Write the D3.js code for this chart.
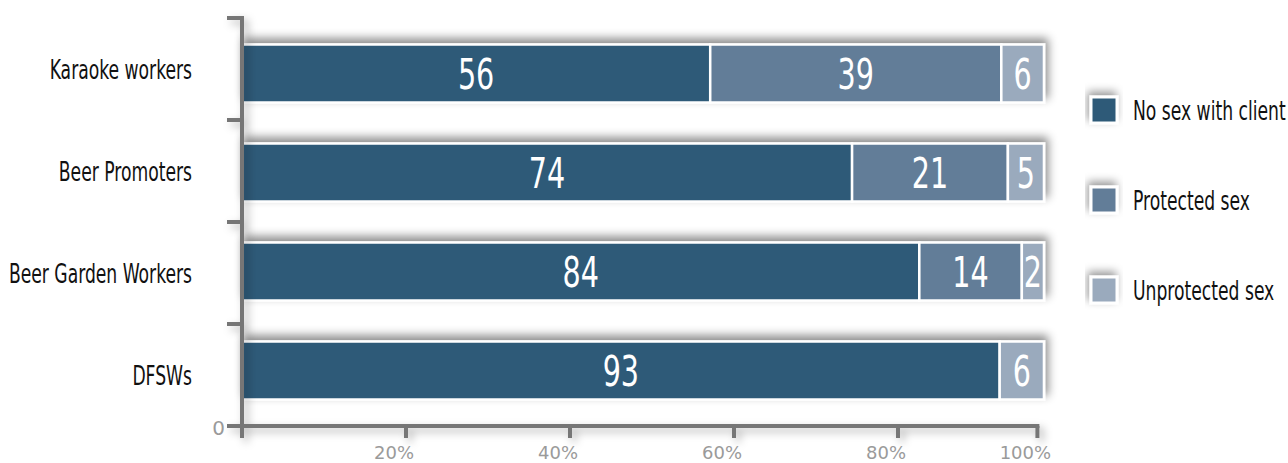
<!DOCTYPE html>
<html>
<head>
<meta charset="utf-8">
<script src="https://cdn.jsdelivr.net/npm/d3@7"></script>
<style>
  html, body { margin: 0; padding: 0; background: #fff; }
  svg { display: block; }
  .cond { font-family: "DejaVu Sans Condensed", "DejaVu Sans", sans-serif; font-stretch: condensed; }
  .tick-label { font-family: "DejaVu Sans", sans-serif; fill: #9a9a9a; }
</style>
</head>
<body>
<svg id="chart" width="1288" height="463"></svg>
<script>
// ---- data ----
const categories = ["Karaoke workers", "Beer Promoters", "Beer Garden Workers", "DFSWs"];
const seriesNames = ["No sex with client", "Protected sex", "Unprotected sex"];
// bar lengths as drawn (percent of the axis scale)
const noSex       = [57.1, 74.4, 82.6, 92.4];
const protectedSx = [35.5, 19.0, 12.5, 0];
const unprotected = [5.2, 4.4, 2.7, 5.4];
// printed value labels
const noSexLabels       = ["56", "74", "84", "93"];
const protectedLabels   = ["39", "21", "14", ""];
const unprotectedLabels = ["6", "5", "2", "6"];
const xTickValues = [20, 40, 60, 80, 97];
const xTickLabels = ["20%", "40%", "60%", "80%", "100%"];
const colors = ["#2d5a78", "#627d98", "#9aaabd"];

const svg = d3.select("#chart");
const defs = svg.append("defs");
function shadow(id, dx, dy, sd, op) {
  const f = defs.append("filter").attr("id", id)
    .attr("x", "-20%").attr("y", "-60%").attr("width", "140%").attr("height", "220%");
  f.append("feDropShadow").attr("dx", dx).attr("dy", dy).attr("stdDeviation", sd)
    .attr("flood-color", "#000").attr("flood-opacity", op);
}
shadow("barShadow", 3, -5, 5, 0.45);
shadow("legShadow", -2, -4, 4, 0.4);
shadow("axShadow", 4, 4, 4, 0.3);

const x = d3.scaleLinear().domain([0, 100]).range([242, 1062]);
const yTicks = d3.scaleBand().domain(categories).range([18, 426]);
const yBars = d3.scalePoint().domain(categories).range([24, 420]).padding(0.5);
const yLabels = d3.scalePoint().domain(categories).range([18, 426]).padding(0.5);
const barH = 58;
const sxLab = 0.735;
const sxVal = 0.74;

const stackData = categories.map((c, i) => ({
  cat: c,
  segs: [
    { v: noSex[i], lab: noSexLabels[i], k: 0 },
    { v: protectedSx[i], lab: protectedLabels[i], k: 1 },
    { v: unprotected[i], lab: unprotectedLabels[i], k: 2 }
  ]
}));
stackData.forEach(d => { let acc = 0; d.segs.forEach(s => { s.x0 = acc; acc += s.v; s.x1 = acc; }); });

// ---- bars ----
const rows = svg.append("g").selectAll("g.row").data(stackData).join("g")
  .attr("class", "row").attr("filter", "url(#barShadow)");
rows.selectAll("rect").data(d => d.segs.filter(s => s.v > 0).map(s => ({...s, cat: d.cat}))).join("rect")
  .attr("x", s => x(s.x0))
  .attr("width", s => x(s.x1) - x(s.x0))
  .attr("y", s => yBars(s.cat) - barH / 2)
  .attr("height", barH)
  .attr("fill", s => colors[s.k])
  .attr("stroke", "#fff").attr("stroke-width", 2.5);

svg.append("g").selectAll("text").data(stackData.flatMap(d => d.segs.filter(s => s.v > 0).map(s => ({...s, cat: d.cat})))).join("text")
  .attr("class", "cond")
  .attr("transform", s => `translate(${(x(s.x0) + x(s.x1)) / 2},${yBars(s.cat) + 15.5}) scale(${sxVal},1)`)
  .attr("text-anchor", "middle")
  .attr("font-size", 43)
  .attr("fill", "#fff")
  .text(s => s.lab);

// ---- axes ----
const axG = svg.append("g").attr("filter", "url(#axShadow)");
const axColor = "#767676";
axG.append("line").attr("x1", 242).attr("x2", 242).attr("y1", yTicks.range()[0] - 2).attr("y2", yTicks.range()[1] + 12)
  .attr("stroke", axColor).attr("stroke-width", 4);
axG.append("line").attr("x1", 227).attr("x2", x(97) + 2).attr("y1", yTicks.range()[1]).attr("y2", yTicks.range()[1])
  .attr("stroke", axColor).attr("stroke-width", 4);
axG.selectAll("line.ytick").data(categories).join("line").attr("class", "ytick")
  .attr("x1", 227).attr("x2", 242)
  .attr("y1", c => yTicks(c)).attr("y2", c => yTicks(c))
  .attr("stroke", axColor).attr("stroke-width", 4);
axG.selectAll("line.xtick").data(xTickValues).join("line").attr("class", "xtick")
  .attr("x1", v => x(v)).attr("x2", v => x(v))
  .attr("y1", yTicks.range()[1]).attr("y2", yTicks.range()[1] + 12)
  .attr("stroke", axColor).attr("stroke-width", 4);

svg.append("g").selectAll("text").data(xTickValues).join("text")
  .attr("class", "tick-label")
  .attr("x", v => x(v) - 12).attr("y", 459)
  .attr("text-anchor", "middle").attr("font-size", 18)
  .text((v, i) => xTickLabels[i]);
svg.append("text").attr("class", "tick-label")
  .attr("x", 225).attr("y", 435).attr("text-anchor", "end").attr("font-size", 20).text("0");

// ---- category labels ----
svg.append("g").selectAll("text").data(categories).join("text")
  .attr("class", "cond")
  .attr("transform", c => `translate(192,${yLabels(c) + 9.5}) scale(${sxLab},1)`)
  .attr("text-anchor", "end").attr("font-size", 26).attr("fill", "#111")
  .text(c => c);

// ---- legend ----
const yLeg = d3.scalePoint().domain(seriesNames).range([110, 290]);
const leg = svg.append("g").selectAll("g").data(seriesNames).join("g")
  .attr("transform", s => `translate(1104,${yLeg(s)})`);
leg.append("rect").attr("x", -13).attr("y", -13).attr("width", 26).attr("height", 26)
  .attr("fill", (s, i) => colors[i]).attr("stroke", "#fff").attr("stroke-width", 3)
  .attr("filter", "url(#legShadow)");
leg.append("text").attr("class", "cond")
  .attr("transform", `translate(29,9.5) scale(${sxLab},1)`)
  .attr("font-size", 26).attr("fill", "#111")
  .text(s => s);
</script>
</body>
</html>
